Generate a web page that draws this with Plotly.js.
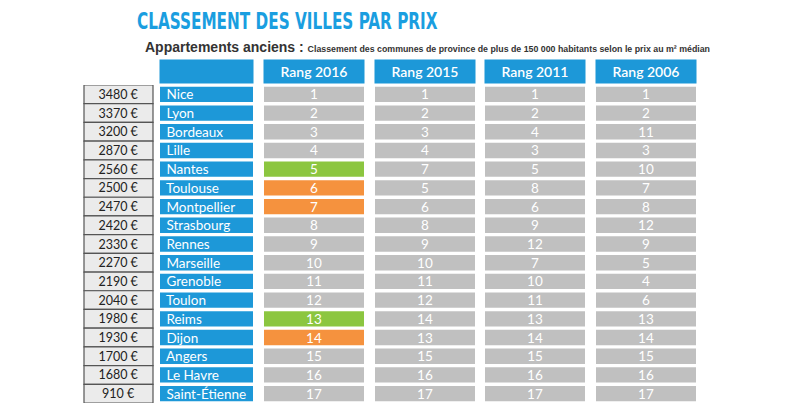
<!DOCTYPE html>
<html>
<head>
<meta charset="utf-8">
<script src="https://cdn.plot.ly/plotly-3.0.1.min.js"></script>
<style>
html,body{margin:0;padding:0;background:#fff;}
#chart{width:800px;height:410px;}
</style>
</head>
<body>
<div id="chart"></div>
<script>
// ---- data ----
var cities = ["Nice","Lyon","Bordeaux","Lille","Nantes","Toulouse","Montpellier","Strasbourg","Rennes","Marseille","Grenoble","Toulon","Reims","Dijon","Angers","Le Havre","Saint-Étienne"];
var prices = [3480,3370,3200,2870,2560,2500,2470,2420,2330,2270,2190,2040,1980,1930,1700,1680,910];
var rank2016 = [1,2,3,4,5,6,7,8,9,10,11,12,13,14,15,16,17];
var rank2015 = [1,2,3,4,7,5,6,8,9,10,11,12,14,13,15,16,17];
var rank2011 = [1,2,4,3,5,8,6,9,12,7,10,11,13,14,15,16,17];
var rank2006 = [1,2,11,3,10,7,8,12,9,5,4,6,13,14,15,16,17];
var headers = ["Rang 2016","Rang 2015","Rang 2011","Rang 2006"];
var titleText = "CLASSEMENT DES VILLES PAR PRIX";
var subtitleMain = "Appartements anciens :";
var subtitleNote = "Classement des communes de province de plus de 150 000 habitants selon le prix au m² médian";

// ---- styles / layout constants ----
var BLUE = "#1d98d8", GRAY = "#c0c0c0", GREEN = "#8cc640", ORANGE = "#f5923e";
var FONT = "Lato, 'Open Sans', sans-serif";
var priceCol = {start: 84, width: 69};
var cityCol = {start: 160, width: 93};
var rankStarts = [264, 375, 485, 596];
var rankWidth = 100;
var TITLE_LEFT = 137, TITLE_RIGHT = 438;

function fill(n, v){ var a=[]; for(var i=0;i<n;i++) a.push(v); return a; }
var N = cities.length;

var traces = [];
// price boxes
traces.push({
  type:"bar", orientation:"h", y:cities, x:fill(N, priceCol.width), base:fill(N, priceCol.start),
  width:1, marker:{color:"#ebebeb", line:{color:"#555", width:1.2}},
  text:prices.map(function(p){return p+" €";}), textposition:"inside", insidetextanchor:"middle",
  constraintext:"none", textangle:0, textfont:{family:FONT, size:12.5, color:"#222"}, hoverinfo:"skip"
});
// city boxes
traces.push({
  type:"bar", orientation:"h", y:cities, x:fill(N, cityCol.width), base:fill(N, cityCol.start),
  width:0.82, marker:{color:BLUE, line:{width:0}},
  text:cities.map(function(c){return "\u00a0"+c;}), textposition:"inside", insidetextanchor:"start",
  constraintext:"none", textangle:0, textfont:{family:FONT, size:13.5, color:"#fff"}, hoverinfo:"skip"
});
// rank columns
var ranks = [rank2016, rank2015, rank2011, rank2006];
ranks.forEach(function(r, k){
  var colors;
  if(k===0){
    colors = r.map(function(v,i){ return v<rank2015[i] ? GREEN : (v>rank2015[i] ? ORANGE : GRAY); });
  } else {
    colors = fill(N, GRAY);
  }
  traces.push({
    type:"bar", orientation:"h", y:cities, x:fill(N, rankWidth), base:fill(N, rankStarts[k]),
    width:0.82, marker:{color:colors, line:{width:0}},
    text:r.map(String), textposition:"inside", insidetextanchor:"middle",
    constraintext:"none", textangle:0, textfont:{family:FONT, size:13.5, color:"#fff"}, hoverinfo:"skip"
  });
});

// header annotations
var annotations = [];
annotations.push({
  xref:"x", yref:"paper", x:cityCol.start+cityCol.width/2, y:1, yshift:13.5, yanchor:"middle",
  text:"", showarrow:false, bgcolor:BLUE, width:cityCol.width, height:23, borderpad:0
});
headers.forEach(function(h,k){
  annotations.push({
    xref:"x", yref:"paper", x:rankStarts[k]+rankWidth/2, y:1, yshift:13.5, yanchor:"middle",
    text:h, showarrow:false, bgcolor:BLUE, width:rankWidth, height:23, borderpad:0,
    font:{family:FONT, size:14, color:"#fff", weight:600}
  });
});
annotations.push({
  xref:"paper", yref:"paper", x:143/800, xanchor:"left", y:1, yshift:38, yanchor:"middle",
  showarrow:false,
  text:subtitleMain+" <span style='font-size:8.8px;font-weight:bold'>"+subtitleNote+"</span>",
  font:{family:"'Liberation Sans', Arial, sans-serif", size:14, color:"#333", weight:600}
});

var layout = {
  width:800, height:410,
  margin:{l:0, r:0, t:85, b:7, pad:0},
  paper_bgcolor:"#fff", plot_bgcolor:"#fff",
  barmode:"overlay", showlegend:false,
  title:{text:"<b>"+titleText+"</b>", x:TITLE_LEFT/800, xanchor:"left", xref:"paper", y:1-21/410, yanchor:"middle", yref:"container",
    font:{family:"'DejaVu Sans Condensed', 'Liberation Sans Narrow', 'Liberation Sans', sans-serif", size:22.5, color:"#1a9ee0"}},
  xaxis:{range:[0,800], visible:false, fixedrange:true},
  yaxis:{type:"category", categoryorder:"array", categoryarray:cities, range:[N-0.5,-0.5], visible:false, fixedrange:true},
  annotations:annotations
};
Plotly.newPlot("chart", traces, layout, {displayModeBar:false, staticPlot:true}).then(function(gd){
  // condense the title horizontally to mimic the condensed heavy typeface
  var t = gd.querySelector(".gtitle");
  if(t){
    var w = t.getBBox().width;
    var s = (TITLE_RIGHT - TITLE_LEFT) / w;
    t.setAttribute("transform", "translate(" + TITLE_LEFT + ",0) scale(" + s + ",1) translate(" + (-TITLE_LEFT) + ",0)");
  }
});
</script>
</body>
</html>
